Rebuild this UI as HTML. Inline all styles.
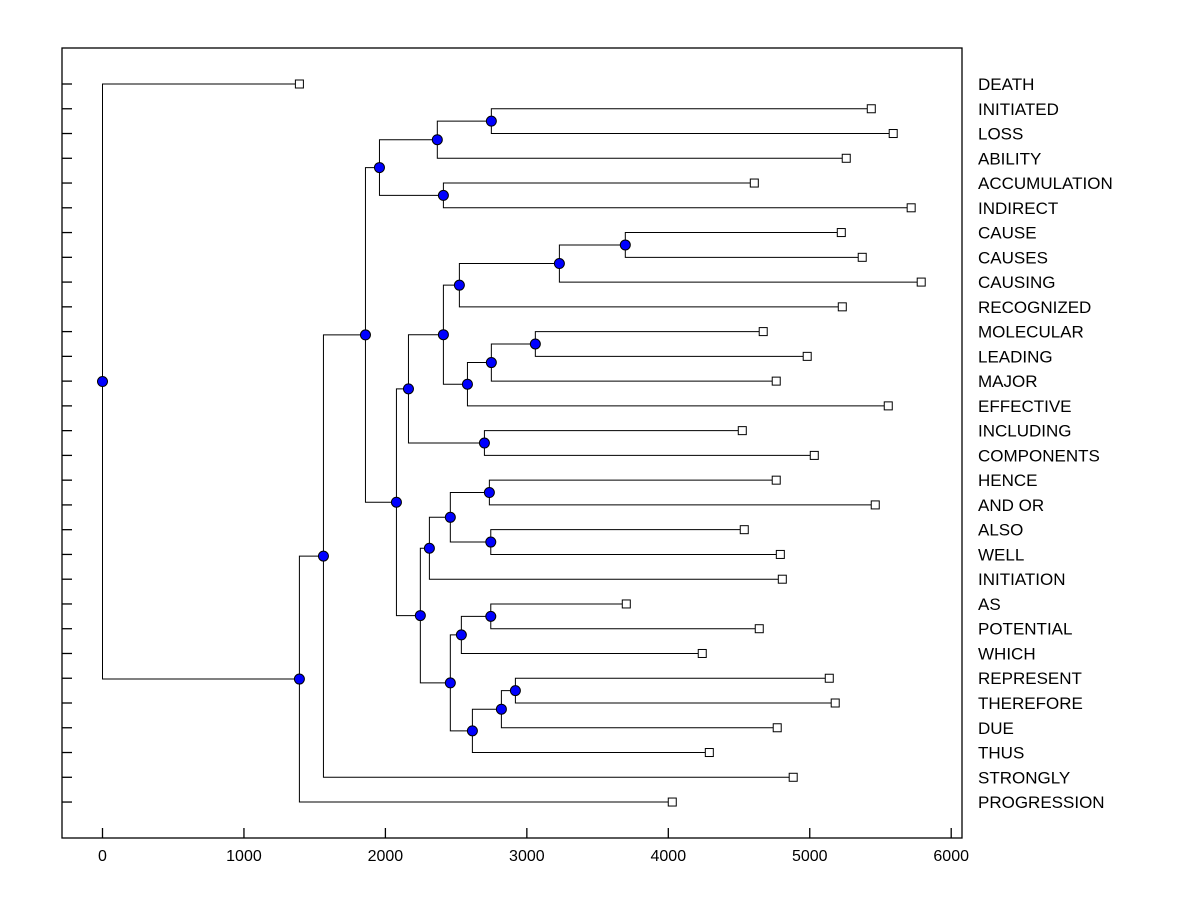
<!DOCTYPE html>
<html><head><meta charset="utf-8"><style>
body{margin:0;background:#fff}
svg{display:block;font-family:"Liberation Sans",Arial,sans-serif}
</style></head><body>
<svg id="chart" width="1200" height="900" xmlns="http://www.w3.org/2000/svg"></svg>
<script>
const leafNames=["DEATH","INITIATED","LOSS","ABILITY","ACCUMULATION","INDIRECT","CAUSE","CAUSES","CAUSING","RECOGNIZED","MOLECULAR","LEADING","MAJOR","EFFECTIVE","INCLUDING","COMPONENTS","HENCE","AND OR","ALSO","WELL","INITIATION","AS","POTENTIAL","WHICH","REPRESENT","THEREFORE","DUE","THUS","STRONGLY","PROGRESSION"];
const leafValues=[1392,5435,5590,5258,4608,5717,5223,5371,5788,5230,4671,4982,4763,5555,4523,5032,4763,5463,4537,4792,4806,3703,4643,4240,5138,5180,4770,4290,4883,4028];
const merges=[
["INITIATED","LOSS",2749],
["n0","ABILITY",2367],
["ACCUMULATION","INDIRECT",2410],
["n1","n2",1958],
["CAUSE","CAUSES",3696],
["n4","CAUSING",3230],
["n5","RECOGNIZED",2523],
["MOLECULAR","LEADING",3060],
["n7","MAJOR",2749],
["n8","EFFECTIVE",2580],
["n6","n9",2410],
["INCLUDING","COMPONENTS",2700],
["n10","n11",2163],
["HENCE","AND OR",2735],
["ALSO","WELL",2745],
["n13","n14",2459],
["n15","INITIATION",2311],
["AS","POTENTIAL",2745],
["n17","WHICH",2537],
["REPRESENT","THEREFORE",2919],
["n19","DUE",2820],
["n20","THUS",2615],
["n18","n21",2459],
["n16","n22",2247],
["n12","n23",2078],
["n3","n24",1859],
["n25","STRONGLY",1562],
["n26","PROGRESSION",1392],
["DEATH","n27",0]
];
const xTicks=[0,1000,2000,3000,4000,5000,6000];

const NS="http://www.w3.org/2000/svg";
const svg=document.getElementById('chart');
const X0=62,X1=962,Y0=48,Y1=838;
const xs=v=>102.5+v*0.14145;
const ys=i=>84+i*24.76;
function mk(tag,attrs,parent){const e=document.createElementNS(NS,tag);for(const k in attrs)e.setAttribute(k,attrs[k]);(parent||svg).appendChild(e);return e;}
const frame=mk('rect',{x:X0,y:Y0,width:X1-X0,height:Y1-Y0,fill:'none',stroke:'#000','stroke-width':1.3});


xTicks.forEach(t=>{
  const tk=mk('line',{x1:xs(t),x2:xs(t),y1:Y1,y2:Y1-10,stroke:'#000','stroke-width':1.3});
  
  
  const tl=mk('text',{x:xs(t),y:Y1+23,'text-anchor':'middle','font-size':16});
  tl.textContent=t;
  
  
});
const pos={};
leafNames.forEach((n,i)=>{
  pos[n]={x:xs(leafValues[i]),y:ys(i)};
  const tk=mk('line',{x1:X0,x2:X0+10,y1:ys(i),y2:ys(i),stroke:'#000','stroke-width':1.3});
  
  
  const lb=mk('text',{x:978,y:ys(i)+6,'font-size':17});
  lb.textContent=n;
  
  
});
const lines=mk('g',{});


const nodes=[];
merges.forEach((m,k)=>{
  const a=pos[m[0]],b=pos[m[1]];
  const x=xs(m[2]);const y=(a.y+b.y)/2;
  pos['n'+k]={x:x,y:y};
  const p=mk('path',{d:`M${a.x},${a.y}H${x}V${b.y}H${b.x}`,fill:'none',stroke:'#000','stroke-width':1},lines);
  
  
  nodes.push({x:x,y:y});
});
leafNames.forEach(n=>{
  const r=mk('rect',{x:pos[n].x-4,y:pos[n].y-4,width:8,height:8,fill:'#fff',stroke:'#000','stroke-width':1});
  
  
});
nodes.forEach(p=>{
  const c=mk('circle',{cx:p.x,cy:p.y,r:5,fill:'#0000ff',stroke:'#000','stroke-width':1});
  
  
});
</script>
</body></html>
